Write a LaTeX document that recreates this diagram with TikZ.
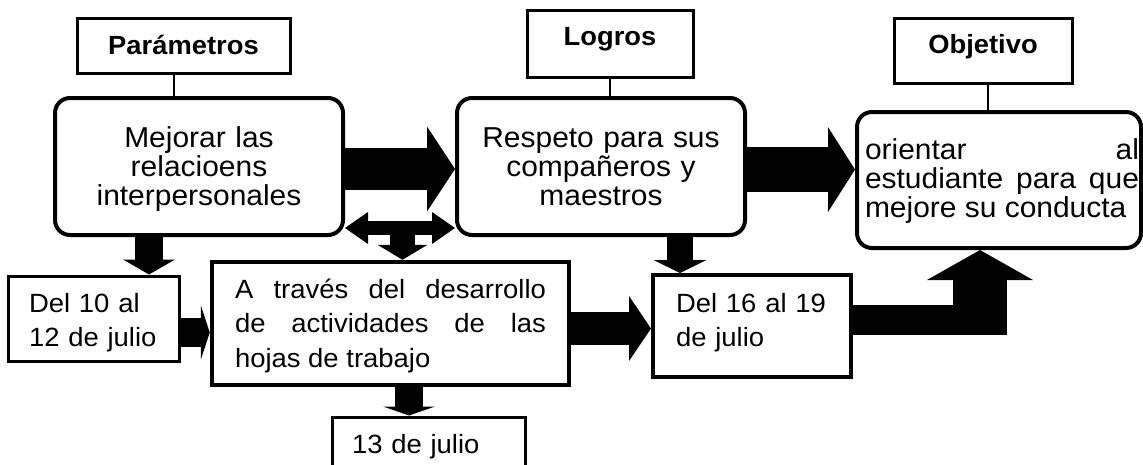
\documentclass[tikz,border=0pt]{standalone}
\usepackage{fontspec}
\setmainfont{Liberation Sans}[FakeStretch=1.04]
\usetikzlibrary{arrows.meta}
\tikzset{
  rbox/.style={draw, line width=4pt, rounded corners=15pt, inner sep=0pt, align=center,
    font=\fontsize{28.8}{29}\selectfont},
  sbox/.style={draw, inner sep=0pt, align=left, font=\fontsize{26.4}{34.5}\selectfont},
  hdr/.style={draw, line width=3pt, inner sep=0pt, font=\fontsize{26.3}{28}\selectfont\bfseries},
  conn/.style={line width=1.2pt},
  blk/.style n args={3}{line width=#1, -{Triangle[length=#2, width=#3, line width=0pt]}},
}
\begin{document}
\begin{tikzpicture}[x=1pt, y=-1pt]
\useasboundingbox (0,0) rectangle (1143,464);

% header boxes
\node[hdr, minimum width=213pt, minimum height=55pt, text height=17pt, text depth=0pt] (par) at (183.5,45.5) {Parámetros};
\node[hdr, minimum width=166pt, minimum height=67pt, text height=3pt, text depth=0pt] (log) at (610,43.5) {Logros};
\node[hdr, minimum width=178pt, minimum height=65pt, text height=5pt, text depth=0pt] (obj) at (983,50.5) {Objetivo};

% rounded boxes
\node[rbox, minimum width=288pt, minimum height=137pt, text width=260pt, inner xsep=14pt, text height=0pt, text depth=39pt] (mej) at (199,166.5) {Mejorar las\\relacioens\\interpersonales};
\node[rbox, minimum width=288pt, minimum height=137pt, text width=260pt, inner xsep=14pt, text height=0pt, text depth=39pt] (res) at (601,166.5) {Respeto para sus\\compañeros y\\maestros};
\node[rbox, align=justify, minimum width=284pt, minimum height=136pt, text width=280pt, inner xsep=2pt, text height=0pt, text depth=42pt] (ori) at (999,180) {\leftskip=6pt orientar\hfill al\linebreak estudiante para que\linebreak mejore su conducta\par};

% square boxes
\node[sbox, line width=3pt, minimum width=171pt, minimum height=85pt, text width=129pt, inner xsep=21pt, text height=0pt, text depth=13pt] (d10) at (93.5,318.5) {Del 10 al\\12 de julio};
\node[sbox, line width=4.5pt, align=justify, minimum width=357pt, minimum height=123pt, text width=311pt, inner xsep=23pt, text height=0pt, text depth=51pt] (tra) at (390.5,323.5) {A través del desarrollo\linebreak de actividades de las\linebreak hojas de trabajo};
\node[sbox, line width=4pt, minimum width=198pt, minimum height=102pt, text width=152pt, inner xsep=23pt, text height=0pt, text depth=28pt] (d16) at (752,326) {Del 16 al 19\\de julio};
\node[sbox, line width=3pt, minimum width=193pt, minimum height=63pt, text width=153pt, inner xsep=20pt, text height=9pt, text depth=0pt] (d13) at (428.5,448.5) {13 de julio};

% thin connectors
\coordinate (pl) at ([xshift=-9.5pt]par.south);
\coordinate (ol) at ([xshift=5pt]obj.south);
\draw[conn] (pl) -- (pl |- mej.north);
\draw[conn] (log.south) -- (log.south |- res.north);
\draw[conn] (ol) -- (ol |- ori.north);

% helper coordinates
\coordinate (yA) at (0,169);
\coordinate (yB) at (0,169.5);
\coordinate (yE) at (0,228);
\coordinate (xC) at (149,0);
\coordinate (xF) at (680,0);
\coordinate (yD) at (0,332.5);
\coordinate (yG) at (0,328.5);
\coordinate (xH) at (409,0);
\coordinate (tb) at (402.5,228);
\coordinate (yI) at (0,320);
\coordinate (bendR) at (1007,320);
\coordinate (bendB) at (980,335);

% block arrows
\draw[blk={42pt}{28pt}{85pt}] (mej.east |- yA) -- (res.west |- yA);
\draw[blk={45pt}{27pt}{85pt}] (res.east |- yB) -- (ori.west |- yB);
\draw[blk={28pt}{15pt}{52pt}] (xC |- mej.south) -- (xC |- d10.north);
\draw[blk={29pt}{9pt}{55pt}] (d10.east |- yD) -- (tra.west |- yD);
\draw[line width=14pt, {Triangle[length=23pt, width=32pt, line width=0pt]}-{Triangle[length=23pt, width=32pt, line width=0pt]}] (mej.east |- yE) -- (res.west |- yE);
\draw[blk={25pt}{15pt}{50pt}] (tb) -- (tb |- tra.north);
\draw[blk={26pt}{13pt}{53pt}] (xF |- res.south) -- (xF |- d16.north);
\draw[blk={33pt}{22pt}{65pt}] (tra.east |- yG) -- (d16.west |- yG);
\draw[blk={28pt}{9pt}{52pt}] (xH |- tra.south) -- (xH |- d13.north);
\draw[line width=30pt] (d16.east |- yI) -- (bendR);
\draw[blk={54pt}{30pt}{106pt}] (bendB) -- (bendB |- ori.south);
\end{tikzpicture}
\end{document}
